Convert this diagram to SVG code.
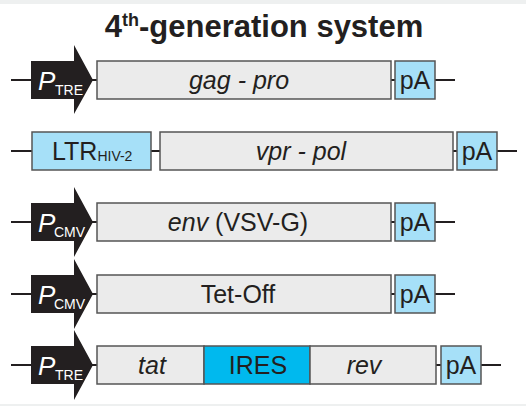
<svg xmlns="http://www.w3.org/2000/svg" width="526" height="406" viewBox="0 0 526 406">
<style>
.bg{fill:#ffffff}
.band{fill:#eef0f0}
.line{stroke:#231f20;stroke-width:2;fill:none}
.gene{fill:#ebebeb;stroke:#555555;stroke-width:1.5}
.pa{fill:#a6e0f8;stroke:#555555;stroke-width:1.5}
.ires{fill:#00b9ee;stroke:#555555;stroke-width:1.5}
.prom{fill:#231f20}
text{font-family:"Liberation Sans",Arial,Helvetica,sans-serif;fill:#231f20}
.lbl{font-size:25px;text-anchor:middle}
.it{font-style:italic}
.ptxt{font-size:26px;font-style:italic;fill:#ffffff}
.psub{font-size:14px;fill:#ffffff}
.title{font-size:31px;font-weight:bold;text-anchor:middle}
</style>
<rect class="bg" x="0" y="0" width="526" height="406"/>
<rect class="band" x="0" y="0" width="526" height="4"/>
<rect class="band" x="0" y="404" width="526" height="2"/>

<text id="title" class="title" x="264" y="37">4<tspan font-size="18" dy="-11">th</tspan><tspan dy="11">-generation system</tspan></text>

<g id="connectors">
<line class="line" x1="11" y1="80" x2="455" y2="80"/>
<line class="line" x1="11" y1="151" x2="517" y2="151"/>
<line class="line" x1="11" y1="222" x2="455" y2="222"/>
<line class="line" x1="11" y1="294" x2="455" y2="294"/>
<line class="line" x1="11" y1="365" x2="501" y2="365"/>
</g>

<g id="row1">
<g id="ptre1"><path class="prom" d="M31,61 H74 V45 L93,80 L74,114 V99 H31 Z"/>
<text class="ptxt" x="38" y="90">P</text><text class="psub" x="55" y="95">TRE</text></g>
<g id="gagpro"><rect class="gene" x="97" y="61" width="294" height="38"/><text class="lbl it" x="239" y="89">gag - pro</text></g>
<g id="pa1"><rect class="pa" x="395" y="61" width="40" height="38"/><text class="lbl" x="415" y="89">pA</text></g>
</g>

<g id="row2">
<g id="ltr"><rect class="pa" x="32" y="132" width="119" height="38"/><text x="52" y="160" font-size="25">LTR<tspan font-size="14" dy="1">HIV-2</tspan></text></g>
<g id="vprpol"><rect class="gene" x="160" y="132" width="293" height="38"/><text class="lbl it" x="301" y="160">vpr - pol</text></g>
<g id="pa2"><rect class="pa" x="457" y="132" width="40" height="38"/><text class="lbl" x="477" y="160">pA</text></g>
</g>

<g id="row3">
<g id="pcmv1"><path class="prom" d="M31,203 H74 V187 L93,222 L74,257 V241 H31 Z"/>
<text class="ptxt" x="38" y="232">P</text><text class="psub" x="54" y="237">CMV</text></g>
<g id="env"><rect class="gene" x="97" y="203" width="294" height="38"/><text class="lbl" x="238" y="231"><tspan class="it">env</tspan> (VSV-G)</text></g>
<g id="pa3"><rect class="pa" x="395" y="203" width="40" height="38"/><text class="lbl" x="415" y="231">pA</text></g>
</g>

<g id="row4">
<g id="pcmv2"><path class="prom" d="M31,275 H74 V259 L93,294 L74,329 V313 H31 Z"/>
<text class="ptxt" x="38" y="304">P</text><text class="psub" x="54" y="309">CMV</text></g>
<g id="tetoff"><rect class="gene" x="97" y="275" width="294" height="38"/><text class="lbl" x="238" y="303">Tet-Off</text></g>
<g id="pa4"><rect class="pa" x="395" y="275" width="40" height="38"/><text class="lbl" x="415" y="303">pA</text></g>
</g>

<g id="row5">
<g id="ptre2"><path class="prom" d="M31,346 H74 V330 L93,365 L74,400 V384 H31 Z"/>
<text class="ptxt" x="38" y="375">P</text><text class="psub" x="55" y="380">TRE</text></g>
<g id="tat"><rect class="gene" x="97" y="346" width="107" height="38"/><text class="lbl it" x="152" y="374">tat</text></g>
<g id="ires"><rect class="ires" x="204" y="346" width="106" height="38"/><text class="lbl" x="258" y="374">IRES</text></g>
<g id="rev"><rect class="gene" x="310" y="346" width="126" height="38"/><text class="lbl it" x="364" y="374">rev</text></g>
<g id="pa5"><rect class="pa" x="441" y="346" width="40" height="38"/><text class="lbl" x="461" y="374">pA</text></g>
</g>
</svg>
